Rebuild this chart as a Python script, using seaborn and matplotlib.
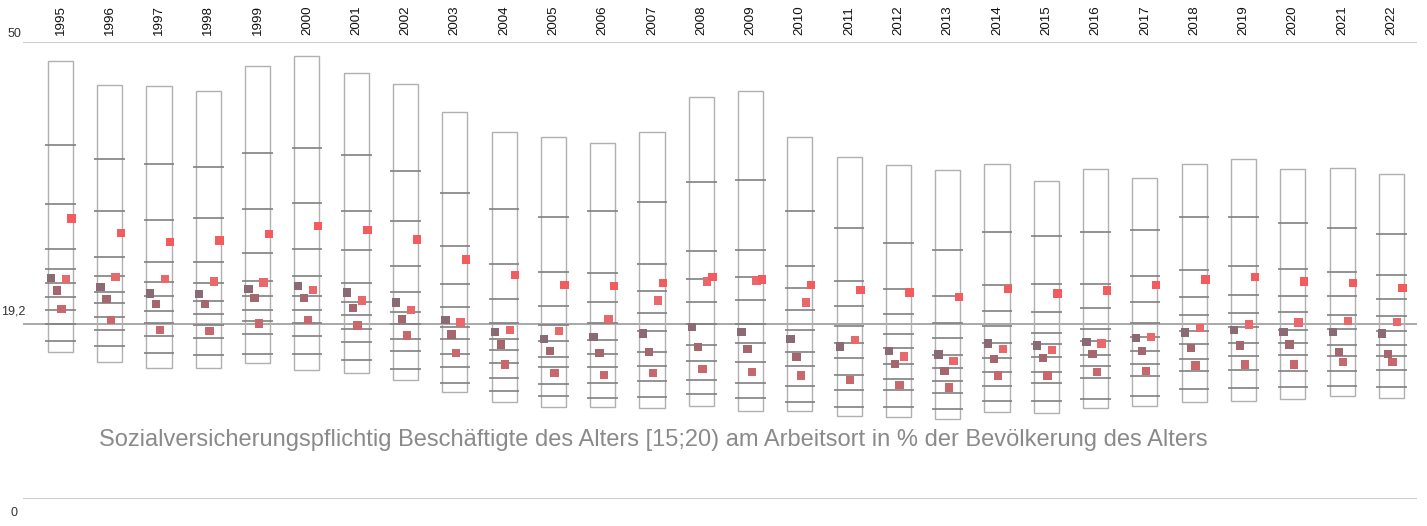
import matplotlib
matplotlib.use("Agg")
import matplotlib.pyplot as plt
import seaborn as sns
import numpy as np
import pandas as pd

years = list(range(1995, 2023))

box_max = [47.9, 45.3, 45.2, 44.6, 47.4, 48.5, 46.6, 45.4, 42.3, 40.2, 39.6, 39.0, 40.1, 44.0,
           44.6, 39.6, 37.4, 36.5, 36.0, 36.6, 34.8, 36.1, 35.1, 36.6, 37.2, 36.1, 36.2, 35.6]
box_min = [16.05, 14.95, 14.3, 14.37, 14.85, 14.15, 13.79, 12.99, 11.67, 10.58, 10.03, 10.03, 9.96, 10.18,
           9.6, 9.6, 9.05, 9.01, 8.75, 9.56, 9.37, 9.96, 10.18, 10.58, 10.76, 10.94, 11.23, 11.05]

# Dezile je Jahr
deciles = [
    [38.7, 32.3, 27.4, 25.2, 23.6, 22.1, 20.7, 19.2, 17.3],
    [37.2, 31.5, 26.5, 24.4, 22.7, 21.4, 19.9, 18.5, 16.7],
    [36.6, 30.5, 25.9, 23.7, 22.2, 20.6, 19.3, 17.8, 16.0],
    [36.3, 30.7, 25.9, 23.6, 21.7, 20.2, 19.0, 17.6, 15.8],
    [37.9, 31.7, 26.9, 23.9, 22.2, 20.7, 19.5, 18.1, 15.9],
    [38.4, 32.4, 27.3, 24.4, 22.2, 20.7, 19.3, 17.8, 15.9],
    [37.6, 31.5, 27.2, 23.6, 21.6, 20.1, 18.6, 17.2, 15.2],
    [35.9, 30.4, 25.5, 22.7, 20.5, 19.1, 17.5, 16.2, 14.2],
    [33.5, 27.7, 23.5, 21.0, 18.8, 17.5, 15.9, 14.4, 12.7],
    [31.7, 25.7, 21.9, 19.3, 17.5, 16.3, 14.9, 13.2, 11.8],
    [30.8, 24.8, 21.1, 19.0, 17.3, 15.5, 14.4, 12.6, 11.3],
    [31.5, 24.7, 21.5, 19.3, 17.4, 15.9, 14.4, 12.7, 11.0],
    [32.5, 25.7, 22.8, 20.4, 18.4, 16.1, 14.6, 12.9, 11.2],
    [34.7, 27.1, 24.1, 21.5, 19.2, 16.8, 15.1, 13.0, 11.5],
    [34.9, 27.2, 24.3, 21.8, 19.2, 17.1, 15.0, 12.7, 11.1],
    [31.5, 25.5, 23.1, 20.7, 18.5, 16.1, 14.5, 12.4, 10.6],
    [29.7, 23.9, 21.1, 18.9, 17.1, 15.4, 13.6, 11.9, 10.1],
    [28.0, 23.0, 20.2, 18.0, 16.5, 14.8, 13.1, 11.9, 10.1],
    [27.2, 22.2, 19.3, 17.6, 15.8, 14.3, 12.9, 11.6, 9.9],
    [29.2, 23.4, 20.6, 18.9, 17.1, 15.4, 13.9, 12.4, 10.7],
    [28.8, 23.5, 20.5, 18.2, 17.0, 15.5, 13.9, 12.7, 10.7],
    [29.2, 23.5, 20.9, 18.6, 17.3, 15.8, 14.5, 13.2, 10.9],
    [29.4, 24.4, 21.5, 19.3, 17.7, 16.2, 14.8, 13.5, 11.3],
    [30.9, 25.1, 22.1, 20.1, 18.4, 17.0, 15.3, 14.0, 12.0],
    [30.9, 25.5, 22.3, 20.3, 18.8, 17.1, 15.7, 14.1, 12.1],
    [30.2, 25.2, 22.2, 20.5, 18.5, 17.1, 15.8, 14.0, 12.3],
    [29.6, 24.8, 22.2, 20.1, 18.6, 16.9, 15.6, 14.0, 12.4],
    [29.0, 24.5, 21.9, 20.0, 18.4, 16.8, 15.6, 14.1, 12.3],
]

s1 = [24.2, 23.2, 22.5, 22.4, 23.0, 23.3, 22.6, 21.5, 19.6, 18.3, 17.5, 17.7, 18.1, 18.8,
      18.3, 17.5, 16.7, 16.2, 15.8, 17.0, 16.8, 17.2, 17.6, 18.2, 18.5, 18.3, 18.3, 18.1]
s2 = [22.8, 21.9, 21.3, 21.3, 22.0, 22.0, 20.9, 19.7, 18.0, 16.9, 16.2, 16.0, 16.1, 16.6,
      16.4, 15.5, np.nan, 14.8, 14.0, 15.3, 15.4, 15.9, 16.2, 16.5, 16.8, 16.9, 16.1, 15.9]
s3 = [20.8, 19.6, 18.5, 18.4, 19.2, 19.6, 19.0, 17.9, 16.0, 14.7, 13.8, 13.6, 13.8, 14.2,
      13.9, 13.5, 13.0, 12.5, 12.2, 13.5, 13.5, 13.9, 14.0, 14.6, 14.7, 14.7, 15.0, 15.0]
s4 = [24.1, 24.3, 24.1, 23.8, 23.7, 22.9, 21.7, 20.7, 19.3, 18.5, 18.4, 19.7, 21.7, 23.8,
      23.9, 21.5, 17.4, 15.6, 15.1, 16.4, 16.3, 17.0, 17.7, 18.7, 19.1, 19.3, 19.5, 19.4]
s5 = [30.7, 29.1, 28.1, 28.3, 29.0, 29.9, 29.4, 28.4, 26.2, 24.5, 23.4, 23.3, 23.6, 24.3,
      24.0, 23.4, 22.9, 22.6, 22.1, 23.0, 22.5, 22.8, 23.4, 24.0, 24.3, 23.8, 23.6, 23.1]

reference = 19.2
title = "Sozialversicherungspflichtig Beschäftigte des Alters [15;20) am Arbeitsort in % der Bevölkerung des Alters"

series = {"s1": s1, "s2": s2, "s3": s3, "s4": s4, "s5": s5}
colors = {"s1": "#8b6b73", "s2": "#a3676d", "s3": "#c8686d", "s4": "#e9686b", "s5": "#f35b5e"}
offsets = {"s1": -0.187, "s2": -0.065, "s3": 0.024, "s4": 0.118, "s5": 0.227}

df = pd.concat([pd.DataFrame({"jahr": years, "wert": v, "serie": k}) for k, v in series.items()])
df = df.dropna()
df["x"] = df["jahr"] + df["serie"].map(offsets)

sns.set_style("white")
plt.rcParams["font.family"] = ["Liberation Sans", "DejaVu Sans"]

fig = plt.figure(figsize=(14.27, 5.26), dpi=100)
ax = fig.add_axes([23 / 1427, 27 / 526, 1394 / 1427, 457 / 526])

# Kästen min-max
ax.bar(years, np.array(box_max) - np.array(box_min), bottom=box_min, width=0.51,
       fill=False, edgecolor="#b0b0b0", linewidth=1.0, zorder=2)

# Dezil-Striche
for yr, dec in zip(years, deciles):
    ax.hlines(dec, yr - 0.31, yr + 0.31, color="#808080", linewidth=1.2, zorder=3)

ax.axhline(reference, color="#9a9a9a", linewidth=1.2, zorder=1)
ax.axhline(50, color="#c4c4c4", linewidth=1.2, zorder=1)
ax.axhline(0, color="#c4c4c4", linewidth=1.2, zorder=1)

sns.scatterplot(data=df, x="x", y="wert", hue="serie", palette=colors, marker="s",
                s=36, linewidth=0, legend=False, ax=ax, zorder=4)

ax.set_xlim(1994.24, 2022.52)
ax.set_ylim(0, 50)
ax.axis("off")

for yr in years:
    ax.text(yr, 50.8, str(yr), rotation=90, ha="center", va="bottom", fontsize=9.6, color="#111111")

fig.text(14 / 1427, 1 - 34 / 526, "50", ha="center", va="center", fontsize=9, color="#333333")
fig.text(14 / 1427, 1 - 513 / 526, "0", ha="center", va="center", fontsize=9, color="#333333")
fig.text(1 / 1427, 1 - 311 / 526, "19,2", ha="left", va="center", fontsize=9, color="#333333")
fig.text(653 / 1427, 1 - 440 / 526, title, ha="center", va="center", fontsize=17, color="#8a8a8a")

fig.savefig("out.png", dpi=100)
